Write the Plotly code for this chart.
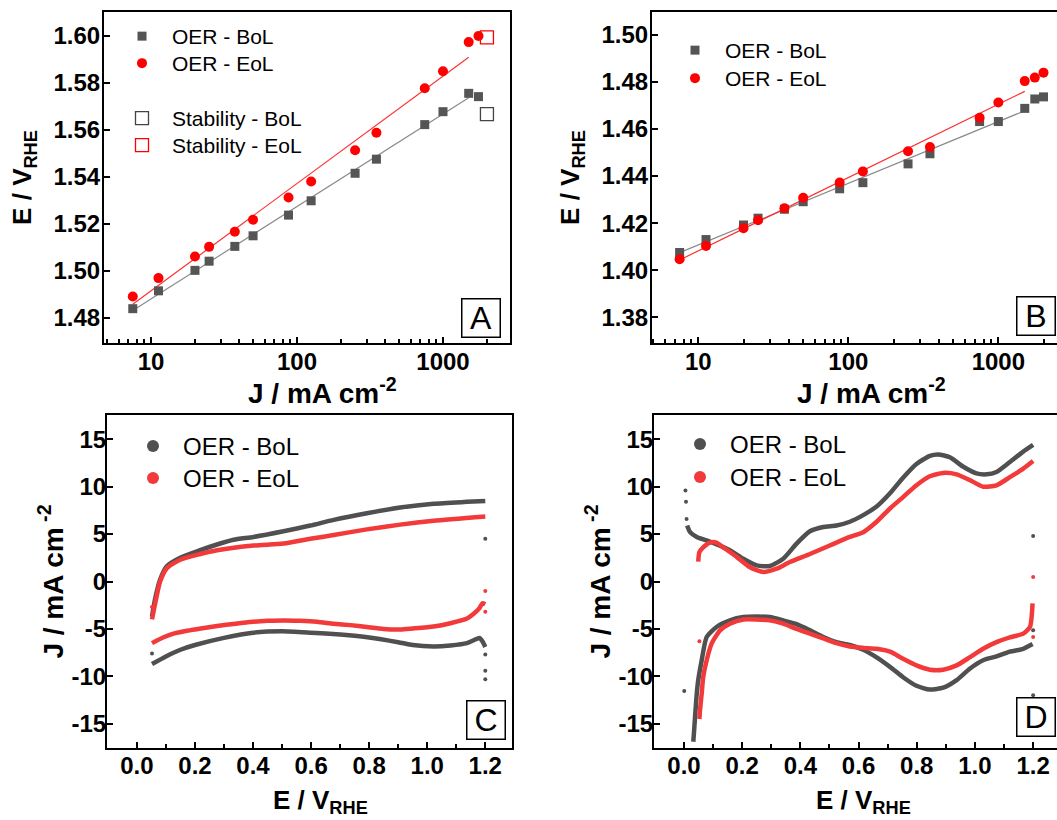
import numpy as np
import plotly.graph_objects as go

W, H = 1057, 820
FONT = "Liberation Sans, Arial, sans-serif"

# ---------------- Data ----------------
# Panel A / B : Tafel data (J in mA cm-2, E in V_RHE)
J_A = [7.5, 11.25, 20, 25, 37.5, 50, 87.5, 125, 250, 350, 750, 1000, 1500, 1750]
E_A_bol = [1.4840, 1.4916, 1.5003, 1.5042, 1.5105, 1.5150, 1.5238, 1.5299, 1.5416, 1.5476, 1.5623, 1.5678, 1.5756, 1.5742]
E_A_eol = [1.4892, 1.4970, 1.5062, 1.5103, 1.5167, 1.5218, 1.5313, 1.5381, 1.5514, 1.5588, 1.5778, 1.5850, 1.5974, 1.6000]
J_A_stab = [2000]
E_A_stab_bol = [1.5668]
E_A_stab_eol = [1.5994]

J_B = [7.5, 11.25, 20, 25, 37.5, 50, 87.5, 125, 250, 350, 750, 1000, 1500, 1750, 2000]
E_B_bol = [1.4075, 1.4130, 1.4192, 1.4221, 1.4259, 1.4291, 1.4346, 1.4372, 1.4452, 1.4495, 1.4632, 1.4632, 1.4688, 1.4728, 1.4737]
E_B_eol = [1.4046, 1.4103, 1.4178, 1.4212, 1.4263, 1.4308, 1.4373, 1.4420, 1.4506, 1.4524, 1.4648, 1.4713, 1.4804, 1.4819, 1.4840]
N_FIT = 13  # Tafel fit uses points up to 1500 mA cm-2

# Panel C : CV (E in V_RHE, J in mA cm-2)
C_bol_up_E = [0.052, 0.063, 0.080, 0.103, 0.149, 0.218, 0.276, 0.333, 0.402, 0.505, 0.597, 0.678, 0.792, 0.907, 1.022, 1.137, 1.200]
C_bol_up_J = [-3.7, -1.8, 0.2, 1.6, 2.5, 3.3, 3.9, 4.4, 4.7, 5.3, 5.9, 6.5, 7.2, 7.8, 8.2, 8.4, 8.5]
C_bol_dn_E = [1.200, 1.190, 1.180, 1.160, 1.137, 1.080, 1.022, 0.950, 0.900, 0.800, 0.700, 0.600, 0.500, 0.400, 0.300, 0.200, 0.150, 0.100, 0.052]
C_bol_dn_J = [-6.9, -6.3, -5.95, -6.2, -6.5, -6.75, -6.85, -6.7, -6.4, -5.9, -5.6, -5.4, -5.25, -5.4, -5.95, -6.7, -7.2, -7.9, -8.7]
C_bol_pts_E = [0.052, 1.200, 1.200, 1.200, 1.200]
C_bol_pts_J = [-7.6, 4.5, -7.7, -9.4, -10.3]

C_eol_up_E = [0.052, 0.063, 0.080, 0.103, 0.149, 0.218, 0.276, 0.402, 0.505, 0.597, 0.678, 0.792, 0.907, 1.022, 1.200]
C_eol_up_J = [-4.0, -2.3, 0.0, 1.4, 2.3, 2.9, 3.3, 3.8, 4.0, 4.5, 4.9, 5.5, 6.0, 6.4, 6.85]
C_eol_dn_E = [1.200, 1.190, 1.180, 1.160, 1.137, 1.080, 1.022, 0.950, 0.907, 0.850, 0.792, 0.735, 0.678, 0.620, 0.563, 0.505, 0.450, 0.400, 0.340, 0.276, 0.220, 0.172, 0.126, 0.090, 0.052]
C_eol_dn_J = [-2.4, -2.3, -2.8, -3.4, -3.9, -4.4, -4.75, -4.95, -5.05, -5.0, -4.8, -4.6, -4.45, -4.25, -4.15, -4.1, -4.15, -4.25, -4.45, -4.7, -4.95, -5.2, -5.5, -5.9, -6.5]
C_eol_pts_E = [0.052, 1.200, 1.200]
C_eol_pts_J = [-2.7, -1.0, -3.2]

# Panel D : CV
D_bol_up_E = [0.011, 0.021, 0.044, 0.089, 0.158, 0.204, 0.250, 0.295, 0.341, 0.387, 0.433, 0.479, 0.524, 0.570, 0.616, 0.662, 0.708, 0.753, 0.799, 0.845, 0.874, 0.914, 0.960, 1.005, 1.040, 1.074, 1.120, 1.166, 1.200]
D_bol_up_J = [5.9, 5.2, 4.7, 4.2, 3.3, 2.4, 1.7, 1.64, 2.4, 4.0, 5.3, 5.75, 5.9, 6.3, 7.0, 7.9, 9.3, 10.95, 12.4, 13.25, 13.4, 13.1, 12.1, 11.4, 11.3, 11.55, 12.6, 13.7, 14.4]
D_bol_dn_E = [1.198, 1.166, 1.120, 1.074, 1.028, 0.982, 0.937, 0.891, 0.845, 0.799, 0.753, 0.708, 0.662, 0.616, 0.570, 0.524, 0.479, 0.433, 0.387, 0.341, 0.295, 0.250, 0.204, 0.158, 0.112, 0.078, 0.061, 0.049, 0.044, 0.038, 0.034, 0.032]
D_bol_dn_J = [-6.6, -7.1, -7.4, -7.9, -8.3, -9.2, -10.4, -11.2, -11.4, -11.0, -10.1, -9.0, -8.0, -7.2, -6.7, -6.4, -5.85, -5.15, -4.5, -4.1, -3.75, -3.7, -3.75, -4.1, -4.8, -5.85, -8.3, -10.4, -11.8, -14.3, -16.1, -16.9]
D_bol_pts_E = [0.005, 0.007, 0.009, 0.001, 1.200, 1.200, 1.200]
D_bol_pts_J = [9.6, 8.4, 6.6, -11.55, 4.8, -5.15, -12.0]

D_eol_up_E = [0.049, 0.053, 0.066, 0.089, 0.112, 0.135, 0.181, 0.227, 0.273, 0.318, 0.364, 0.433, 0.501, 0.570, 0.616, 0.662, 0.708, 0.753, 0.799, 0.845, 0.891, 0.937, 0.982, 1.028, 1.074, 1.120, 1.166, 1.200]
D_eol_up_J = [2.1, 3.1, 3.6, 4.1, 4.1, 3.6, 2.6, 1.5, 1.0, 1.35, 2.05, 2.9, 3.8, 4.7, 5.2, 6.3, 7.7, 8.9, 10.15, 11.1, 11.45, 11.3, 10.7, 10.0, 10.15, 11.0, 11.9, 12.7]
D_eol_dn_E = [1.198, 1.189, 1.166, 1.120, 1.074, 1.028, 0.982, 0.937, 0.891, 0.845, 0.799, 0.753, 0.708, 0.662, 0.616, 0.570, 0.524, 0.479, 0.433, 0.387, 0.341, 0.295, 0.250, 0.204, 0.158, 0.124, 0.095, 0.078, 0.066, 0.061, 0.055, 0.053]
D_eol_dn_J = [-2.3, -4.8, -5.5, -5.9, -6.4, -7.1, -8.0, -8.85, -9.3, -9.3, -8.85, -8.15, -7.4, -7.1, -7.0, -6.85, -6.5, -6.0, -5.5, -5.0, -4.45, -4.1, -4.0, -4.0, -4.45, -5.15, -6.55, -8.3, -10.1, -11.8, -13.6, -14.5]
D_eol_pts_E = [1.200, 1.200, 0.053]
D_eol_pts_J = [0.47, -5.85, -6.3]

A_yticks = [1.48, 1.50, 1.52, 1.54, 1.56, 1.58, 1.60]
B_yticks = [1.38, 1.40, 1.42, 1.44, 1.46, 1.48, 1.50]
CV_yticks = [-15, -10, -5, 0, 5, 10, 15]
CV_xticks = [0.0, 0.2, 0.4, 0.6, 0.8, 1.0, 1.2]
J_ticks = [10, 100, 1000]

GRAY = "#555555"
RED = "#ff0000"
CV_GRAY = "#505050"
CV_RED = "#f23a3a"


def px(x):
    return x / W


def py(y):
    return 1 - y / H


fig = go.Figure()


def tafel_fit(J, E, n):
    lj = np.log10(np.array(J[:n], dtype=float))
    b, a = np.polyfit(lj, np.array(E[:n], dtype=float), 1)
    xs = np.array([J[0], J[n - 1]], dtype=float)
    return xs, a + b * np.log10(xs)


# ---- Panel A ----
for E, col in [(E_A_bol, "#8a8a8a"), (E_A_eol, "#ff3030")]:
    fx, fy = tafel_fit(J_A, E, N_FIT)
    fig.add_trace(go.Scatter(x=fx, y=fy, mode="lines", line=dict(color=col, width=1.2),
                             showlegend=False, xaxis="x", yaxis="y", hoverinfo="skip"))
fig.add_trace(go.Scatter(x=J_A, y=E_A_bol, mode="markers", name="OER - BoL",
                         marker=dict(symbol="square", size=9, color=GRAY),
                         xaxis="x", yaxis="y", legend="legend"))
fig.add_trace(go.Scatter(x=J_A, y=E_A_eol, mode="markers", name="OER - EoL",
                         marker=dict(symbol="circle", size=10, color=RED),
                         xaxis="x", yaxis="y", legend="legend2"))
fig.add_trace(go.Scatter(x=J_A_stab, y=E_A_stab_bol, mode="markers", name="Stability - BoL",
                         marker=dict(symbol="square-open", size=13, color="#444444", line=dict(width=1.3)),
                         xaxis="x", yaxis="y", legend="legend3"))
fig.add_trace(go.Scatter(x=J_A_stab, y=E_A_stab_eol, mode="markers", name="Stability - EoL",
                         marker=dict(symbol="square-open", size=13, color=RED, line=dict(width=1.3)),
                         xaxis="x", yaxis="y", legend="legend4"))

# ---- Panel B ----
for E, col in [(E_B_bol, "#8a8a8a"), (E_B_eol, "#ff3030")]:
    fx, fy = tafel_fit(J_B, E, N_FIT)
    fig.add_trace(go.Scatter(x=fx, y=fy, mode="lines", line=dict(color=col, width=1.2),
                             showlegend=False, xaxis="x2", yaxis="y2", hoverinfo="skip"))
fig.add_trace(go.Scatter(x=J_B, y=E_B_bol, mode="markers", name="OER - BoL",
                         marker=dict(symbol="square", size=9, color=GRAY),
                         xaxis="x2", yaxis="y2", legend="legend5"))
fig.add_trace(go.Scatter(x=J_B, y=E_B_eol, mode="markers", name="OER - EoL",
                         marker=dict(symbol="circle", size=10, color=RED),
                         xaxis="x2", yaxis="y2", legend="legend6"))


# ---- Panels C / D ----
def cv(xa, ya, leg, up_E, up_J, dn_E, dn_J, pts_E, pts_J, col, name):
    for e, j in [(up_E, up_J), (dn_E, dn_J)]:
        fig.add_trace(go.Scatter(x=e, y=j, mode="lines",
                                 line=dict(color=col, width=4.5, shape="spline", smoothing=0.6),
                                 showlegend=False, xaxis=xa, yaxis=ya, hoverinfo="skip"))
    fig.add_trace(go.Scatter(x=pts_E, y=pts_J, mode="markers", name=name,
                             marker=dict(symbol="circle", size=4, color=col),
                             xaxis=xa, yaxis=ya, legend=leg))


cv("x3", "y3", "legend7", C_bol_up_E, C_bol_up_J, C_bol_dn_E, C_bol_dn_J, C_bol_pts_E, C_bol_pts_J, CV_GRAY, "OER - BoL")
cv("x3", "y3", "legend8", C_eol_up_E, C_eol_up_J, C_eol_dn_E, C_eol_dn_J, C_eol_pts_E, C_eol_pts_J, CV_RED, "OER - EoL")
cv("x4", "y4", "legend9", D_bol_up_E, D_bol_up_J, D_bol_dn_E, D_bol_dn_J, D_bol_pts_E, D_bol_pts_J, CV_GRAY, "OER - BoL")
cv("x4", "y4", "legend10", D_eol_up_E, D_eol_up_J, D_eol_dn_E, D_eol_dn_J, D_eol_pts_E, D_eol_pts_J, CV_RED, "OER - EoL")

# ---------------- Layout ----------------
tickfont = dict(family=FONT, size=24, color="black", weight="bold")


def axis(domain, rng, anchor, tls, title=None, tsize=26, standoff=0, log=False,
         tickvals=None, ticktext=None, minor=None):
    d = dict(domain=domain, range=rng, anchor=anchor, showgrid=False, zeroline=False,
             showline=True, linecolor="black", linewidth=2, mirror=True,
             ticks="inside", ticklen=6, tickwidth=2, tickcolor="black",
             tickfont=tickfont, automargin=False, ticklabelstandoff=tls)
    if title is not None:
        d["title"] = dict(text=title, font=dict(family=FONT, size=tsize, color="black", weight="bold"),
                          standoff=standoff)
    if log:
        d["type"] = "log"
    if tickvals is not None:
        d["tickmode"] = "array"
        d["tickvals"] = tickvals
        if ticktext is not None:
            d["ticktext"] = ticktext
    if minor is not None:
        d["minor"] = minor
    return d


xA = [px(104), px(510)]
xB = [px(652), 1.0]
xC = [px(107), px(512)]
xD = [px(654), 1.0]
yTop = [py(343), py(12)]
yBot = [py(748), py(415)]

log_minor = dict(ticks="inside", ticklen=4, tickwidth=1.5, tickcolor="black", dtick="D1", showgrid=False)
lin_minor = dict(ticks="inside", ticklen=4, tickwidth=1.5, tickcolor="black", dtick=0.1, showgrid=False)

J_text = [str(v) for v in J_ticks]
fig.update_layout(
    width=W, height=H, autosize=False,
    margin=dict(l=0, r=0, t=0, b=0),
    paper_bgcolor="white", plot_bgcolor="white",
    font=dict(family=FONT, color="black"),
    xaxis=axis(xA, [0.678, 3.459], "y", -4, log=True,
               tickvals=J_ticks, ticktext=J_text, minor=log_minor),
    yaxis=axis(yTop, [1.4694, 1.6102], "x", -3, "E / V<sub>RHE</sub>", 26, 14,
               tickvals=A_yticks, ticktext=[f"{v:.2f}" for v in A_yticks]),
    xaxis2=axis(xB, [0.691, 3.391], "y2", -4, log=True,
                tickvals=J_ticks, ticktext=J_text, minor=log_minor),
    yaxis2=axis(yTop, [1.3690, 1.5098], "x2", -3, "E / V<sub>RHE</sub>", 26, 14,
                tickvals=B_yticks, ticktext=[f"{v:.2f}" for v in B_yticks]),
    xaxis3=axis(xC, [-0.103, 1.292], "y3", -5,
                tickvals=CV_xticks, ticktext=[f"{v:.1f}" for v in CV_xticks], minor=lin_minor),
    yaxis3=axis(yBot, [-17.56, 17.56], "x3", -6, "J / mA cm<sup> -2</sup>", 28, 0,
                tickvals=CV_yticks, ticktext=[str(v) for v in CV_yticks]),
    xaxis4=axis(xD, [-0.103, 1.282], "y4", -5,
                tickvals=CV_xticks, ticktext=[f"{v:.1f}" for v in CV_xticks], minor=lin_minor),
    yaxis4=axis(yBot, [-17.56, 17.56], "x4", -6, "J / mA cm<sup> -2</sup>", 28, 0,
                tickvals=CV_yticks, ticktext=[str(v) for v in CV_yticks]),
)

# x-axis titles placed where the reference centres them
for text, cx, cy in [("J / mA cm<sup>-2</sup>", 322, 391), ("J / mA cm<sup>-2</sup>", 871, 391),
                     ("E / V<sub>RHE</sub>", 320, 801), ("E / V<sub>RHE</sub>", 863, 801)]:
    fig.add_annotation(text=text, xref="paper", yref="paper", x=px(cx), y=py(cy),
                       xanchor="center", yanchor="middle", showarrow=False,
                       font=dict(family=FONT, size=28 if text.startswith("J") else 26,
                                 color="black", weight="bold"))

leg_small = dict(family=FONT, size=21, color="black")
leg_big = dict(family=FONT, size=24, color="black")
common = dict(bgcolor="rgba(0,0,0,0)", borderwidth=0, xanchor="left", yanchor="top", itemwidth=50)
# one legend per entry so each row can sit where the reference puts it
legend_pos = {
    "legend": (112, 16, leg_small, "trace"),
    "legend2": (112, 43, leg_small, "trace"),
    "legend3": (112, 98, leg_small, "trace"),
    "legend4": (112, 125, leg_small, "trace"),
    "legend5": (665, 30, leg_small, "trace"),
    "legend6": (665, 58, leg_small, "trace"),
    "legend7": (123, 424, leg_big, "constant"),
    "legend8": (123, 456, leg_big, "constant"),
    "legend9": (670, 422, leg_big, "constant"),
    "legend10": (670, 455, leg_big, "constant"),
}
fig.update_layout({k: dict(x=px(x), y=py(y), font=f, itemsizing=s, **common)
                   for k, (x, y, f, s) in legend_pos.items()})

# panel letters
for label, cx, cy in [("A", 480.5, 317.5), ("B", 1036, 315.5), ("C", 486, 720), ("D", 1036, 717)]:
    fig.add_annotation(text=label, xref="paper", yref="paper", x=px(cx), y=py(cy),
                       xanchor="center", yanchor="middle", showarrow=False,
                       font=dict(family=FONT, size=32, color="black"),
                       bordercolor="black", borderwidth=1.5, borderpad=1,
                       width=35, height=35, bgcolor="white")

fig.write_html("out.html", config={"displayModeBar": False},
               post_script="document.body.style.margin='0';document.body.style.overflow='hidden';")
